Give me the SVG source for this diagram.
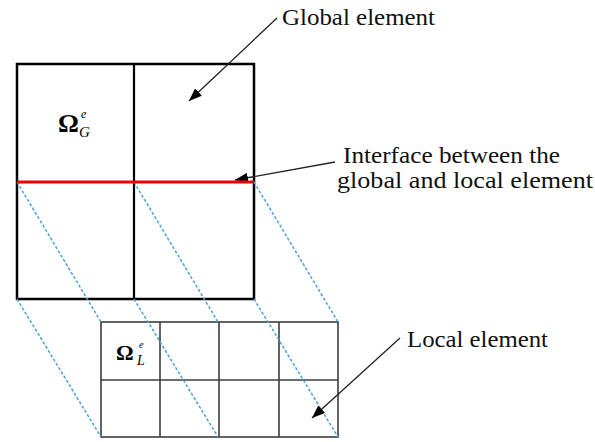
<svg xmlns="http://www.w3.org/2000/svg" width="595" height="442" viewBox="0 0 595 442">
  <style>
    .lbl { font-family: 'Liberation Serif', 'DejaVu Serif', 'Times New Roman', serif; font-size: 24px; fill: #111; }
    .sym { font-family: 'Liberation Serif', 'DejaVu Serif', 'Times New Roman', serif; fill: #000; }
    .it { font-style: italic; }
    .gbox { fill: none; stroke: #000; stroke-width: 2.5; }
    .gline { stroke: #000; stroke-width: 2.2; }
    .lgrid { fill: none; stroke: #3c3c3c; stroke-width: 1.6; }
    .iface { stroke: #ee0000; stroke-width: 3; }
    .proj { stroke: #4aa0dc; stroke-width: 1.5; stroke-dasharray: 3 2; fill: none; }
    .arrow { stroke: #222; stroke-width: 1.3; fill: none; marker-end: url(#ah); }
  </style>
  <defs>
    <marker id="ah" markerUnits="userSpaceOnUse" markerWidth="14" markerHeight="10" refX="13" refY="5" orient="auto">
      <path d="M0,0 L13,5 L0,10 z" fill="#000"/>
    </marker>
  </defs>
  <rect width="595" height="442" fill="#fff"/>

  <g id="global-element">
    <rect class="gbox" x="17" y="64" width="237" height="235"/>
    <line class="gline" x1="134" y1="64" x2="134" y2="299"/>
    <text class="sym" x="58" y="132" font-size="26" font-weight="bold">Ω</text>
    <text class="sym it" x="81" y="118" font-size="12">e</text>
    <text class="sym it" x="79" y="137" font-size="15">G</text>
  </g>

  <g id="local-element">
    <rect class="lgrid" x="101" y="322" width="237" height="115"/>
    <line class="lgrid" x1="101" y1="380" x2="338" y2="380"/>
    <line class="lgrid" x1="160" y1="322" x2="160" y2="437"/>
    <line class="lgrid" x1="219" y1="322" x2="219" y2="437"/>
    <line class="lgrid" x1="279" y1="322" x2="279" y2="437"/>
    <text class="sym" x="116" y="360" font-size="22" font-weight="bold">Ω</text>
    <text class="sym it" x="139" y="348" font-size="10">e</text>
    <text class="sym it" x="137" y="365" font-size="14">L</text>
  </g>

  <g id="connectors">
    <line class="proj" x1="17" y1="182" x2="101" y2="322"/>
    <line class="proj" x1="134" y1="182" x2="218" y2="322"/>
    <line class="proj" x1="254" y1="182" x2="338" y2="322"/>
    <line class="proj" x1="17" y1="299" x2="101" y2="437"/>
    <line class="proj" x1="134" y1="299" x2="218" y2="437"/>
    <line class="proj" x1="254" y1="299" x2="338" y2="437"/>
    <path class="arrow" d="M277,18 L189,101"/>
    <path class="arrow" d="M335,162 L235,180"/>
    <path class="arrow" d="M400,338 L312,418"/>
  </g>

  <g id="interface">
    <line class="iface" x1="17" y1="182" x2="254" y2="182"/>
  </g>

  <g id="labels">
    <text class="lbl" x="282" y="25" textLength="153" lengthAdjust="spacingAndGlyphs">Global element</text>
    <text class="lbl" x="343" y="163" textLength="217" lengthAdjust="spacingAndGlyphs">Interface between the</text>
    <text class="lbl" x="337" y="188" textLength="256" lengthAdjust="spacingAndGlyphs">global and local element</text>
    <text class="lbl" x="407" y="347" textLength="141" lengthAdjust="spacingAndGlyphs">Local element</text>
  </g>
</svg>
